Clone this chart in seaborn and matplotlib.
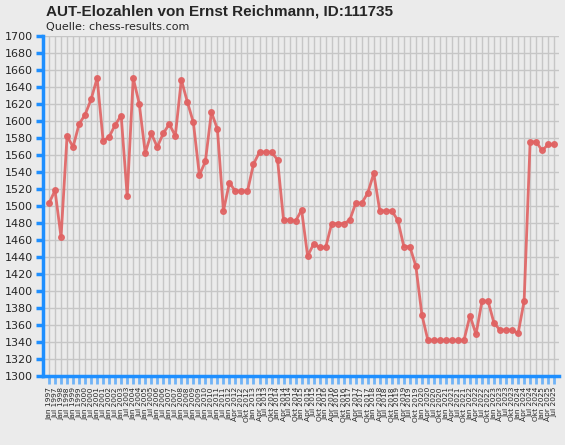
import numpy as np
import pandas as pd
import matplotlib
matplotlib.use("Agg")
import matplotlib.pyplot as plt
import seaborn as sns

# --- dados ---
elo = [
    1503, 1518, 1463, 1582, 1569, 1596, 1607, 1625, 1650, 1576,
    1581, 1595, 1606, 1511, 1650, 1620, 1562, 1585, 1569, 1585,
    1596, 1582, 1648, 1622, 1598, 1536, 1552, 1610, 1590, 1494,
    1527, 1517, 1517, 1517, 1549, 1563, 1563, 1563, 1554, 1483,
    1483, 1482, 1495, 1441, 1455, 1451, 1451, 1479, 1479, 1479,
    1483, 1503, 1503, 1515, 1538, 1494, 1494, 1494, 1483, 1452,
    1452, 1429, 1372, 1342, 1342, 1342, 1342, 1342, 1342, 1342,
    1371, 1349, 1388, 1388, 1362, 1354, 1354, 1354, 1350, 1388,
    1575, 1575, 1565, 1572, 1572,
]

datas = [
    "Jan 1997", "Jul 1997", "Jan 1998", "Jul 1998", "Jan 1999", "Jul 1999",
    "Jan 2000", "Jul 2000", "Jan 2001", "Jul 2001", "Jan 2002", "Jul 2002",
    "Jan 2003", "Jul 2003", "Jan 2004", "Jul 2004", "Jan 2005", "Jul 2005",
    "Jan 2006", "Jul 2006", "Jan 2007", "Jul 2007", "Jan 2008", "Jul 2008",
    "Jan 2009", "Jul 2009", "Jan 2010", "Jul 2010", "Jan 2011", "Jul 2011",
    "Jan 2012", "Apr 2012", "Jul 2012", "Okt 2012",
    "Jan 2013", "Apr 2013", "Jul 2013", "Okt 2013",
    "Jan 2014", "Apr 2014", "Jul 2014", "Okt 2014",
    "Jan 2015", "Apr 2015", "Jul 2015", "Okt 2015",
    "Jan 2016", "Apr 2016", "Jul 2016", "Okt 2016",
    "Jan 2017", "Apr 2017", "Jul 2017", "Okt 2017",
    "Jan 2018", "Apr 2018", "Jul 2018", "Okt 2018",
    "Jan 2019", "Apr 2019", "Jul 2019", "Okt 2019",
    "Jan 2020", "Apr 2020", "Jul 2020", "Okt 2020",
    "Jan 2021", "Apr 2021", "Jul 2021", "Okt 2021",
    "Jan 2022", "Apr 2022", "Jul 2022", "Okt 2022",
    "Jan 2023", "Apr 2023", "Jul 2023", "Okt 2023",
    "Jan 2024", "Apr 2024", "Jul 2024", "Okt 2024",
    "Jan 2025", "Apr 2025", "Jul 2025",
]

y_ticks = list(range(1300, 1701, 20))

# --- estilo ---
FUNDO = "#EBEBEB"
GRADE = "#C6C6C6"
AZUL = "#1E8FFF"
VERMELHO = "#E06262"

sns.set_style("white", {"axes.facecolor": FUNDO, "figure.facecolor": FUNDO,
                        "xtick.bottom": True, "ytick.left": True})

df = pd.DataFrame({"pos": np.arange(len(elo)), "elo": elo})

fig = plt.figure(figsize=(5.65, 4.45), dpi=100)
ax = fig.add_axes([43 / 565, 1 - 376 / 445, 516 / 565, (376 - 35.5) / 445])

sns.lineplot(data=df, x="pos", y="elo", ax=ax, color=VERMELHO, linewidth=2,
             marker="o", markersize=4, markeredgewidth=1.0,
             markeredgecolor=VERMELHO, alpha=0.9)

ax.set_xlim(-1, len(elo) - 0.2)
ax.set_ylim(1300, 1700)
ax.set_xticks(df["pos"])
ax.set_xticklabels(datas, rotation=90, fontsize=5.4, va="top")
ax.set_yticks(y_ticks)
ax.set_yticklabels([str(v) for v in y_ticks], fontsize=8)
ax.set_xlabel("")
ax.set_ylabel("")

ax.grid(True, color=GRADE, linewidth=1)
ax.set_axisbelow(True)

for s in ["top", "right"]:
    ax.spines[s].set_visible(False)
for s in ["left", "bottom"]:
    ax.spines[s].set_color(AZUL)
    ax.spines[s].set_linewidth(2.5)

ax.tick_params(axis="y", direction="out", length=5, width=2.5, color=AZUL, pad=2)
ax.tick_params(axis="x", direction="out", length=6, width=2, color=AZUL, pad=2)
for t in ax.xaxis.get_ticklines():
    t.set_alpha(0.6)

fig.text(46 / 565, 1 - 12 / 445, "AUT-Elozahlen von Ernst Reichmann, ID:111735",
         fontsize=11, fontweight="bold", family="Liberation Sans",
         va="center", ha="left")
fig.text(46 / 565, 1 - 27 / 445, "Quelle: chess-results.com",
         fontsize=8, va="center", ha="left")

plt.savefig("out.png", dpi=100, facecolor=FUNDO)
plt.close()
